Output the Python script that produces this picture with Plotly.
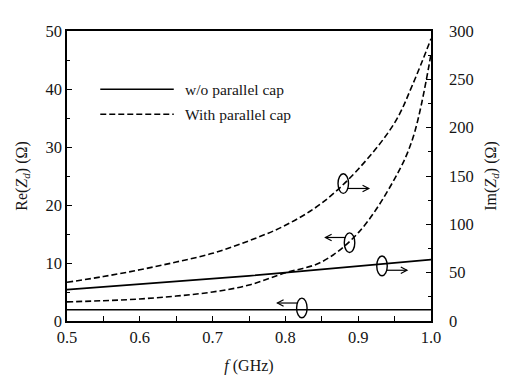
import plotly.graph_objects as go

# frequency grid (GHz)
freq = [0.5, 0.55, 0.6, 0.65, 0.7, 0.75, 0.8, 0.85, 0.9, 0.95, 0.975, 1.0]

# w/o parallel cap
re_wo = [1.95, 1.95, 1.95, 1.95, 1.95, 1.95, 1.95, 1.95, 1.95, 1.95, 1.95, 1.95]
im_wo = [32.5, 35.3, 38.0, 40.7, 43.5, 46.7, 50.0, 53.2, 56.5, 60.0, 61.7, 63.5]

# with parallel cap
re_w = [3.3, 3.5, 3.8, 4.3, 5.0, 6.2, 8.3, 10.2, 15.2, 24.5, 31.5, 46.0]
im_w = [40.0, 46.0, 53.0, 61.0, 70.0, 83.0, 99.0, 122.0, 157.0, 205.0, 245.0, 292.0]

legend_labels = ["w/o parallel cap", "With parallel cap"]
x_ticks = [0.5, 0.6, 0.7, 0.8, 0.9, 1.0]
y_ticks = [0, 10, 20, 30, 40, 50]
y2_ticks = [0, 50, 100, 150, 200, 250, 300]

FONT = "Liberation Serif"
TXT = "#151515"
dash = "6px,3px"

fig = go.Figure()
fig.add_trace(go.Scatter(x=freq, y=re_wo, mode="lines", line=dict(color="black", width=1.6),
                         name=legend_labels[0], showlegend=False))
fig.add_trace(go.Scatter(x=freq, y=im_wo, mode="lines", yaxis="y2", line=dict(color="black", width=1.6),
                         name=legend_labels[0], showlegend=False))
fig.add_trace(go.Scatter(x=freq, y=re_w, mode="lines", line=dict(color="black", width=1.6, dash=dash, shape="spline"),
                         name=legend_labels[1], showlegend=False))
fig.add_trace(go.Scatter(x=freq, y=im_w, mode="lines", yaxis="y2",
                         line=dict(color="black", width=1.6, dash=dash, shape="spline"),
                         name=legend_labels[1], showlegend=False))

axis_common = dict(showline=True, linecolor="black", linewidth=1.6, ticks="inside", ticklen=5,
                   tickwidth=1.2, tickcolor="black", showgrid=False, zeroline=False,
                   tickfont=dict(family=FONT, size=16.5, color=TXT))

fig.update_layout(
    width=514, height=381,
    margin=dict(l=56.5, r=91, t=22.7, b=68.3),
    paper_bgcolor="white", plot_bgcolor="white",
    font=dict(family=FONT, size=16, color=TXT),
    xaxis=dict(range=[0.5, 1.0], tickvals=x_ticks, tickformat=".1f", mirror=True,
               minor=dict(ticks="inside", ticklen=5, dtick=0.05, tickcolor="black", tickwidth=1.2),
               title=dict(text="<i>f</i> (GHz)", font=dict(family=FONT, size=16, color=TXT), standoff=14),
               ticklabelstandoff=0,
               **axis_common),
    yaxis=dict(range=[0, 50], tickvals=y_ticks,
               minor=dict(ticks="inside", ticklen=3, dtick=5, tickcolor="black", tickwidth=1.2),
               title=dict(text="Re(<i>Z</i><sub><i>d</i></sub>) (Ω)", font=dict(family=FONT, size=16, color=TXT),
                          standoff=14),
               ticklabelstandoff=0,
               **axis_common),
    yaxis2=dict(range=[0, 300], tickvals=y2_ticks, overlaying="y", side="right",
                minor=dict(ticks="inside", ticklen=3, dtick=25, tickcolor="black", tickwidth=1.2),
                title=dict(text="Im(<i>Z</i><sub><i>d</i></sub>) (Ω)", font=dict(family=FONT, size=16, color=TXT),
                           standoff=12),
                ticklabelstandoff=13,
                **axis_common),
)

# manual legend (long line samples as in the reference)
lx0, lx1, tx = (98 - 64.5) / 366.5, (172 - 64.5) / 366.5, (181 - 64.5) / 366.5
for lab, yy, dsh in [(legend_labels[0], (320.7 - 89) / 290, "solid"),
                     (legend_labels[1], (320.7 - 114) / 290, dash)]:
    fig.add_shape(type="line", xref="paper", yref="paper", x0=lx0, x1=lx1, y0=yy, y1=yy,
                  line=dict(color="black", width=1.6, dash=dsh))
    fig.add_annotation(xref="paper", yref="paper", x=tx, y=yy, text=lab, showarrow=False,
                       xanchor="left", yanchor="middle", font=dict(family=FONT, size=15.5, color=TXT))

# ellipses + arrows indicating which axis each curve belongs to
ellipses = [(0.8795, 23.7), (0.8881, 13.5), (0.9327, 9.5), (0.8226, 2.25)]
arrows = [((0.8854, 22.85), (0.9145, 22.85)),
          ((0.8826, 14.4), (0.8550, 14.4)),
          ((0.9386, 8.75), (0.9670, 8.75)),
          ((0.8168, 3.1), (0.7890, 3.1))]
for (cx, cy) in ellipses:
    fig.add_shape(type="circle", xref="x", yref="y", x0=cx - 0.0072, x1=cx + 0.0072,
                  y0=cy - 1.7, y1=cy + 1.7, line=dict(color="black", width=1.4))
hx_len, hy_len = 0.0085, 0.55
for (t, h) in arrows:
    fig.add_shape(type="line", xref="x", yref="y", x0=t[0], y0=t[1], x1=h[0], y1=h[1],
                  line=dict(color="black", width=1.2))
    sgn = 1 if h[0] > t[0] else -1
    bx = h[0] - sgn * hx_len
    fig.add_shape(type="path", xref="x", yref="y",
                  path=f"M {bx},{h[1] + hy_len} L {h[0]},{h[1]} L {bx},{h[1] - hy_len}",
                  line=dict(color="black", width=1.2))

fig.write_html("out.html")
